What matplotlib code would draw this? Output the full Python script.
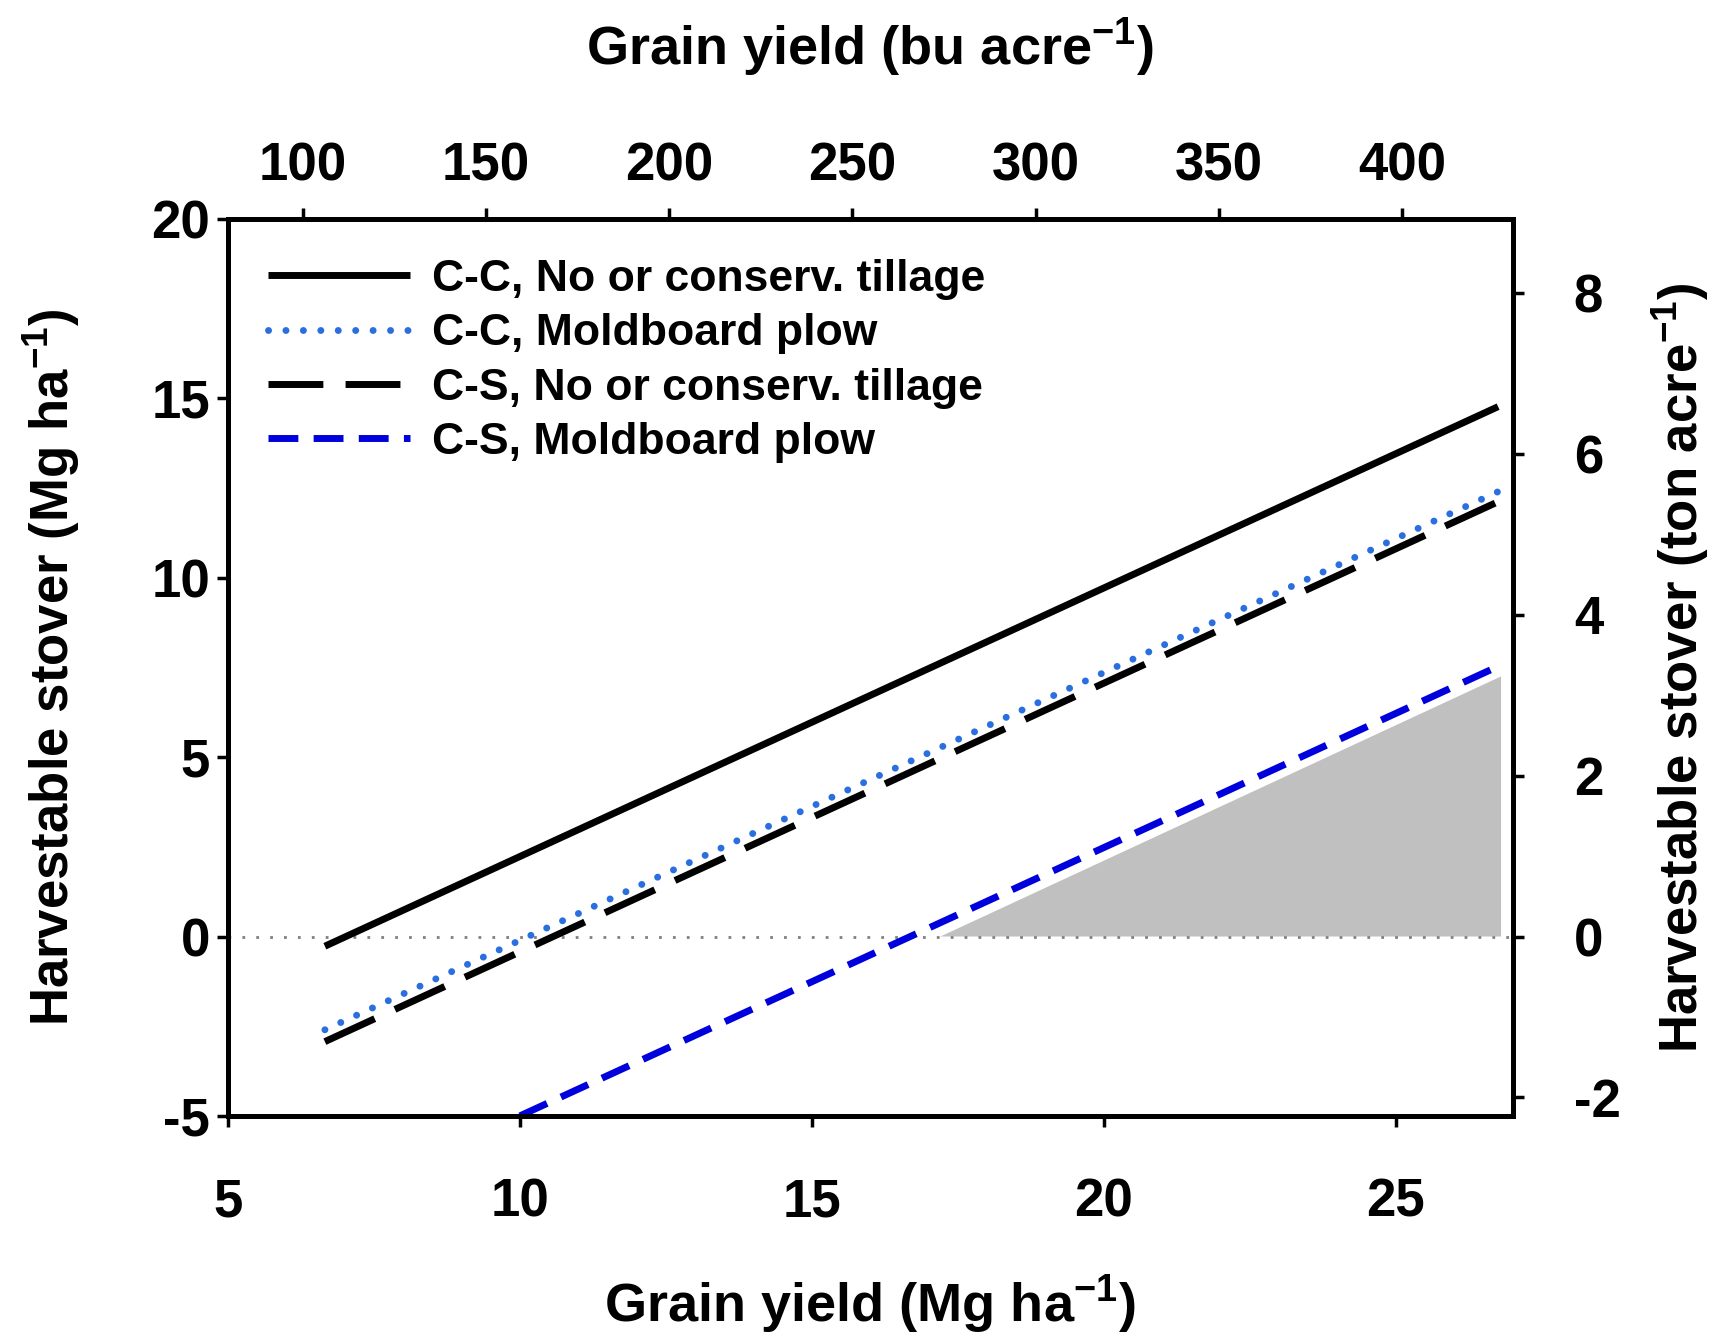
import numpy as np
import matplotlib.pyplot as plt

# grain yield (Mg/ha) endpoints and harvestable stover (Mg/ha)
cc_nt_x = [6.66, 26.75]
cc_nt_y = [-0.27, 14.77]
cc_mp_x = [6.66, 26.75]
cc_mp_y = [-2.60, 12.40]
cs_nt_x = [6.66, 26.75]
cs_nt_y = [-2.93, 12.12]
cs_mp_x = [10.0, 26.75]
cs_mp_y = [-5.0, 7.53]

# shaded region (harvestable under all systems)
fill_x = [17.2, 26.8, 26.8]
fill_y = [0.0, 7.25, 0.0]

labels = ["C-C, No or conserv. tillage", "C-C, Moldboard plow",
          "C-S, No or conserv. tillage", "C-S, Moldboard plow"]

bu_per_mg = 15.93     # bu/acre per Mg/ha (corn)
ton_per_mg = 0.4461   # ton/acre per Mg/ha

plt.rcParams['font.family'] = ['Liberation Sans', 'DejaVu Sans']
plt.rcParams['font.weight'] = 'bold'
plt.rcParams['axes.unicode_minus'] = False
plt.rcParams['mathtext.fontset'] = 'custom'
plt.rcParams['mathtext.rm'] = 'Liberation Sans'
plt.rcParams['mathtext.bf'] = 'Liberation Sans:bold'

fig = plt.figure(figsize=(17.19, 13.38), dpi=100)
ax = fig.add_axes([0.1326, 0.166, 0.7474, 0.6703])

ax.fill(fill_x, fill_y, color="#c0c0c0", lw=0, zorder=1)
ax.axhline(0, color="#808080", lw=2, ls=(0, (1, 4)), zorder=1)

lw = 5
ax.plot(cc_nt_x, cc_nt_y, color="black", lw=lw, solid_capstyle="butt", label=labels[0])
ax.plot(cc_mp_x, cc_mp_y, color="#2a6fe0", lw=lw, ls=(0, (0.01, 2.5)), dash_capstyle="round", label=labels[1])
ax.plot(cs_nt_x, cs_nt_y, color="black", lw=lw, ls=(0, (7.9, 3.2)), label=labels[2])
ax.plot(cs_mp_x, cs_mp_y, color="#0000dd", lw=lw, ls=(0, (4.3, 2.2)), label=labels[3])

ax.set_xlim(5, 27)
ax.set_ylim(-5, 20)
ax.set_xticks([5, 10, 15, 20, 25])
ax.set_yticks([-5, 0, 5, 10, 15, 20])

for s in ax.spines.values():
    s.set_linewidth(3.6)
ax.tick_params(direction="out", length=8, width=2.5, labelsize=38)
ax.tick_params(axis="y", pad=5)
ax.tick_params(axis="x", pad=36)

ax.set_xlabel("Grain yield (Mg ha$^{\\mathbf{-1}}$)", fontsize=39, fontweight="bold", labelpad=33)
ax.set_ylabel("Harvestable stover (Mg ha$^{\\mathbf{-1}}$)", fontsize=38, fontweight="bold", labelpad=50)

top = ax.secondary_xaxis("top", functions=(lambda x: x * bu_per_mg, lambda x: x / bu_per_mg))
top.set_xticks([100, 150, 200, 250, 300, 350, 400])
top.tick_params(direction="out", length=8, width=2.5, labelsize=38, pad=12)
top.spines["top"].set_linewidth(3.6)
top.set_xlabel("Grain yield (bu acre$^{\\mathbf{-1}}$)", fontsize=39, fontweight="bold", labelpad=55)

right = ax.secondary_yaxis("right", functions=(lambda y: y * ton_per_mg, lambda y: y / ton_per_mg))
right.set_yticks([-2, 0, 2, 4, 6, 8])
right.tick_params(direction="out", length=8, width=2.5, labelsize=38, pad=36)
right.spines["right"].set_linewidth(3.6)
right.set_ylabel("Harvestable stover (ton acre$^{\\mathbf{-1}}$)", fontsize=38, fontweight="bold", labelpad=21)

ax.legend(loc="upper left", frameon=False, handlelength=3.2, handletextpad=0.5,
          labelspacing=0.3, borderaxespad=0.5,
          prop={"family": ["Liberation Sans Narrow", "Liberation Sans"], "weight": "bold", "size": 32})

fig.savefig("out.png", dpi=100)
